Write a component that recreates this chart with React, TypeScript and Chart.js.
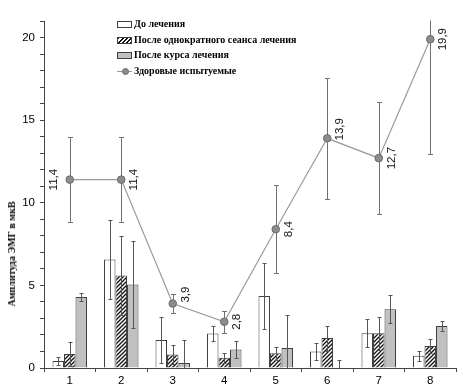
import React, { useEffect, useRef } from 'react';
import { Chart, registerables } from 'chart.js';

Chart.register(...registerables);

const categories = ['1', '2', '3', '4', '5', '6', '7', '8'];

const beforeTreatment = [0.42, 6.56, 1.69, 2.09, 4.35, 1.0, 2.11, 0.74];
const beforeTreatmentErr = [0.25, 2.4, 1.38, 0.43, 2.0, 0.5, 0.85, 0.31];

const afterSingle = [0.85, 5.6, 0.82, 0.62, 0.9, 1.81, 2.11, 1.33];
const afterSingleErr = [0.7, 2.4, 0.58, 0.3, 0.4, 0.76, 1.0, 0.42];

const afterCourse = [4.3, 5.05, 0.3, 1.12, 1.21, 0, 3.56, 2.54];
const afterCourseErr = [0.25, 2.65, 1.37, 0.5, 2.0, 0.48, 0.85, 0.33];

const healthy = [11.4, 11.4, 3.9, 2.8, 8.4, 13.9, 12.7, 19.9];
const healthyErr = [2.55, 2.55, 0.6, 0.67, 2.66, 3.67, 3.4, 6.95];

const seriesNames = [
  'До лечения',
  'После однократного сеанса лечения',
  'После курса лечения',
  'Здоровые испытуемые',
];
const yAxisTitle = 'Амплитуда ЭМГ в мкВ';

const Y_MIN = 0;
const Y_MAX = 21;

function makeHatch(): CanvasPattern | string {
  const c = document.createElement('canvas');
  c.width = 4;
  c.height = 4;
  const g = c.getContext('2d');
  if (!g) return '#888';
  g.fillStyle = '#ffffff';
  g.fillRect(0, 0, 4, 4);
  g.strokeStyle = '#111111';
  g.lineWidth = 1.3;
  g.beginPath();
  g.moveTo(0, 4);
  g.lineTo(4, 0);
  g.moveTo(-1, 1);
  g.lineTo(1, -1);
  g.moveTo(3, 5);
  g.lineTo(5, 3);
  g.stroke();
  return g.createPattern(c, 'repeat') || '#888';
}

function drawErrors(chart: any, index: number) {
  const ds = chart.data.datasets[index];
  const meta = chart.getDatasetMeta(index);
  const yScale = chart.scales.y;
  const ctx = chart.ctx;
  const area = chart.chartArea;
  ctx.save();
  ctx.beginPath();
  ctx.rect(area.left, area.top - 0.5, area.right - area.left, area.bottom - area.top + 0.5);
  ctx.clip();
  ctx.strokeStyle = ds.errorColor;
  ctx.lineWidth = 1;
  const cap = ds.capHalf;
  meta.data.forEach((el: any, i: number) => {
    const v = ds.data[i];
    const e = ds.errors[i];
    if (v == null || e == null) return;
    const x = Math.round(el.x) + 0.5;
    const top = Math.round(yScale.getPixelForValue(v + e)) + 0.5;
    const bot = Math.round(yScale.getPixelForValue(v - e)) + 0.5;
    ctx.beginPath();
    ctx.moveTo(x, top);
    ctx.lineTo(x, bot);
    ctx.moveTo(x - cap, top);
    ctx.lineTo(x + cap, top);
    ctx.moveTo(x - cap, bot);
    ctx.lineTo(x + cap, bot);
    ctx.stroke();
  });
  ctx.restore();
}

const errorBarPlugin = {
  id: 'errorBars',
  beforeDatasetDraw(chart: any, args: any) {
    const ds = chart.data.datasets[args.index];
    if (ds.errors && ds.errorsBehind) drawErrors(chart, args.index);
  },
  afterDatasetDraw(chart: any, args: any) {
    const ds = chart.data.datasets[args.index];
    if (ds.errors && !ds.errorsBehind) drawErrors(chart, args.index);
    if (ds.showValues) {
      const meta = chart.getDatasetMeta(args.index);
      const ctx = chart.ctx;
      ctx.save();
      ctx.font = '11.5px "Liberation Sans", Arial, sans-serif';
      ctx.fillStyle = '#111';
      ctx.textAlign = 'center';
      ctx.textBaseline = 'middle';
      const vals: number[] = ds.data;
      meta.data.forEach((el: any, i: number) => {
        const v = vals[i];
        const next = vals[i + 1];
        const dx = i === 0 ? -16 : 13;
        const dy = next != null && next < v && v - next < 2 ? -9 : 0;
        ctx.save();
        ctx.translate(el.x + dx, el.y + dy);
        ctx.rotate(-Math.PI / 2);
        ctx.fillText(v.toFixed(1).replace('.', ','), 0, 0);
        ctx.restore();
      });
      ctx.restore();
    }
  },
};

export default function App() {
  const canvasRef = useRef<HTMLCanvasElement | null>(null);

  useEffect(() => {
    const canvas = canvasRef.current;
    if (!canvas) return;
    const hatch = makeHatch();
    const chart = new Chart(canvas, {
      type: 'bar',
      data: {
        labels: categories,
        datasets: [
          {
            type: 'line',
            label: seriesNames[3],
            data: healthy,
            errors: healthyErr,
            errorsBehind: true,
            errorColor: '#707070',
            capHalf: 2.5,
            showValues: true,
            borderColor: '#9a9a9a',
            borderWidth: 1.2,
            backgroundColor: '#8a8a8a',
            pointRadius: 3.8,
            pointBackgroundColor: '#8c8c8c',
            pointBorderColor: '#6a6a6a',
            pointBorderWidth: 1,
            tension: 0,
            order: 0,
          } as any,
          {
            label: seriesNames[0],
            data: beforeTreatment,
            errors: beforeTreatmentErr,
            errorColor: '#555',
            capHalf: 2,
            backgroundColor: '#ffffff',
            borderColor: '#404040',
            borderWidth: 1,
            order: 1,
          } as any,
          {
            label: seriesNames[1],
            data: afterSingle,
            errors: afterSingleErr,
            errorColor: '#555',
            capHalf: 2,
            backgroundColor: hatch,
            borderColor: '#404040',
            borderWidth: 1,
            order: 1,
          } as any,
          {
            label: seriesNames[2],
            data: afterCourse,
            errors: afterCourseErr,
            errorColor: '#555',
            capHalf: 2,
            backgroundColor: '#c0c0c0',
            borderColor: '#404040',
            borderWidth: 1,
            order: 1,
          } as any,
        ],
      },
      options: {
        responsive: false,
        animation: false,
        datasets: {
          bar: { categoryPercentage: 0.67, barPercentage: 1.0 },
        },
        layout: { padding: { top: 21, right: 7, left: 0, bottom: 0 } },
        plugins: {
          legend: { display: false },
          tooltip: { enabled: false },
          title: { display: false },
        },
        scales: {
          x: {
            offset: true,
            grid: {
              display: true,
              offset: true,
              drawOnChartArea: false,
              drawTicks: true,
              tickLength: 4,
              color: '#444',
            },
            border: { display: true, color: '#444', width: 1 },
            ticks: {
              color: '#000',
              padding: 2,
              font: { family: '"Liberation Sans", Arial, sans-serif', size: 11.5 },
            },
            afterFit: (scale: any) => {
              scale.height = 21;
            },
          },
          y: {
            min: Y_MIN,
            max: Y_MAX,
            grid: {
              display: true,
              drawOnChartArea: false,
              drawTicks: true,
              tickLength: 4,
              color: '#444',
            },
            border: { display: true, color: '#444', width: 1 },
            ticks: {
              stepSize: 1,
              autoSkip: false,
              padding: 5,
              color: '#000',
              font: { family: '"Liberation Sans", Arial, sans-serif', size: 11.5 },
              callback: (v: any) => (Number(v) % 5 === 0 ? String(v) : ''),
            },
            afterFit: (scale: any) => {
              scale.width = 44;
            },
          },
        },
      } as any,
      plugins: [errorBarPlugin],
    });
    return () => chart.destroy();
  }, []);

  const legendFont: React.CSSProperties = {
    fontFamily: '"Liberation Serif", "Times New Roman", serif',
    fontWeight: 'bold',
    fontSize: 10,
    color: '#000',
    whiteSpace: 'nowrap',
    lineHeight: '12px',
  };
  const boxBase: React.CSSProperties = {
    display: 'inline-block',
    width: 13,
    height: 5,
    border: '1px solid #404040',
    marginRight: 2,
    verticalAlign: 'middle',
    boxSizing: 'content-box',
  };
  const rowStyle = (top: number): React.CSSProperties => ({
    position: 'absolute',
    left: 117,
    top,
    display: 'flex',
    alignItems: 'center',
    height: 12,
    ...legendFont,
  });

  return (
    <div style={{ position: 'fixed', left: 0, top: 0, width: 463, height: 389, background: '#fff' }}>
      <canvas ref={canvasRef} width={463} height={389} style={{ display: 'block' }} />
      <div style={rowStyle(18)}>
        <span style={{ ...boxBase, background: '#fff' }} />
        <span>{seriesNames[0]}</span>
      </div>
      <div style={rowStyle(34)}>
        <span
          style={{
            ...boxBase,
            background: 'repeating-linear-gradient(135deg, #111 0 1.3px, #fff 1.3px 3px)',
          }}
        />
        <span>{seriesNames[1]}</span>
      </div>
      <div style={rowStyle(49)}>
        <span style={{ ...boxBase, background: '#c0c0c0' }} />
        <span>{seriesNames[2]}</span>
      </div>
      <div style={rowStyle(65)}>
        <span style={{ position: 'relative', display: 'inline-block', width: 15, height: 8, marginRight: 2 }}>
          <span style={{ position: 'absolute', left: 0, top: 3.5, width: 15, height: 1, background: '#9a9a9a' }} />
          <span
            style={{
              position: 'absolute',
              left: 4.5,
              top: 1,
              width: 5,
              height: 5,
              borderRadius: '50%',
              background: '#8c8c8c',
              border: '1px solid #6a6a6a',
              boxSizing: 'content-box',
            }}
          />
        </span>
        <span>{seriesNames[3]}</span>
      </div>
      <div
        style={{
          position: 'absolute',
          left: 12,
          top: 254,
          transform: 'translate(-50%, -50%) rotate(-90deg)',
          ...legendFont,
        }}
      >
        {yAxisTitle}
      </div>
    </div>
  );
}
